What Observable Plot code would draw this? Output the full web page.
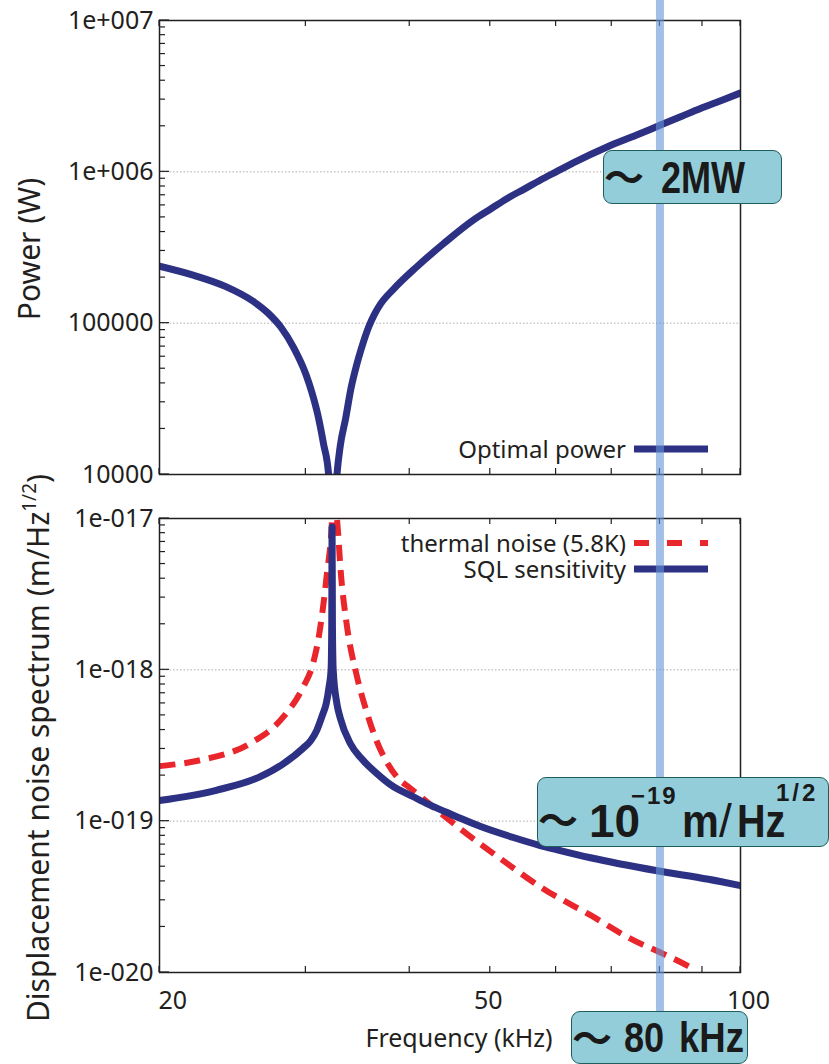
<!DOCTYPE html>
<html>
<head>
<meta charset="utf-8">
<script src="https://cdn.jsdelivr.net/npm/d3@7"></script>
<script src="https://cdn.jsdelivr.net/npm/@observablehq/plot@0.6"></script>
<style>
  body { margin: 0; background: #fff; }
  #fig { position: relative; width: 829px; height: 1064px; overflow: hidden; font-family: "Noto Sans", sans-serif; color: #231f20; background: #fff; }
  #fig > svg { position: absolute; left: 0; }
  .ytitle { position: absolute; white-space: nowrap; font-size: 30px; line-height: 1; transform: translate(-50%, -50%) rotate(-90deg); }
  .ytitle sup { font-size: 19px; vertical-align: 0; position: relative; top: -13px; }
  .callout { position: absolute; box-sizing: border-box; background: #93cdda; border: 1.5px solid #1e5e5c; border-radius: 9px; color: #1a1a1a; }
  .callout span { position: absolute; white-space: nowrap; line-height: 1; transform-origin: 0 0;
                  font-family: "Liberation Sans", sans-serif; font-weight: bold; }
  .callout span.wave { font-family: "Noto Sans CJK JP", sans-serif; font-weight: 700; font-size: 40px; }
</style>
</head>
<body>
<div id="fig"></div>
<script>
// Optimal laser power versus frequency
const powerFreq = [20, 22, 24, 26, 27, 28, 29, 30, 30.5, 31, 31.5, 31.95, 32.3, 32.7, 33, 33.5, 34, 34.5, 35, 35.7,
                   36.3, 36.9, 38.25, 40.8, 44, 47.7, 50, 52.4, 55, 57.4, 60, 63, 69.1, 75, 80, 85, 89.5, 95, 100];
const powerW = [2.38e5, 2.07e5, 1.75e5, 1.38e5, 1.17e5, 9.4e4, 6.9e4, 4.6e4, 3.5e4, 2.5e4, 1.6e4, 1.0e4, 3.0e3, 1.0e4,
                1.55e4, 2.36e4, 3.73e4, 5.21e4, 6.85e4, 9.43e4, 1.15e5, 1.34e5, 1.68e5, 2.36e5, 3.38e5, 4.8e5, 5.66e5,
                6.67e5, 7.72e5, 8.8e5, 1.0e6, 1.15e6, 1.46e6, 1.75e6, 2.03e6, 2.33e6, 2.62e6, 2.97e6, 3.32e6];

// SQL-limited displacement sensitivity (m/Hz^1/2)
const sqlFreq = [20, 23.4, 26.4, 28.2, 29.78, 30.4, 30.93, 31.4, 31.74, 32.0, 32.17, 32.23, 32.26, 32.29, 32.36, 32.69,
                 33.0, 33.93, 35, 36.5, 38, 40.4, 42, 44.3, 46.1, 48.6, 53.3, 57.3, 60.2, 66, 79.4, 91.5, 100];
const sqlNoise = [1.37e-19, 1.6e-19, 1.96e-19, 2.4e-19, 3.04e-19, 3.4e-19, 4.0e-19, 5.0e-19, 6.0e-19, 7.8e-19, 1.0e-18,
                  2.0e-18, 8.8e-18, 2.0e-18, 1.0e-18, 6.0e-19, 4.8e-19, 3.26e-19, 2.59e-19, 2.07e-19, 1.73e-19, 1.45e-19,
                  1.3e-19, 1.145e-19, 1.04e-19, 9.25e-20, 7.8e-20, 6.93e-20, 6.47e-20, 5.73e-20, 4.7e-20, 4.13e-20, 3.75e-20];

// Thermal noise of the mirror at 5.8 K (m/Hz^1/2)
const thermalFreq = [20, 22.4, 25.7, 28.2, 29.78, 30.6, 31.04, 31.43, 31.82, 32.18, 32.4, 32.76, 33.03, 33.6, 34.53,
                     35.51, 36.46, 37.49, 38.64, 40.06, 41.18, 43.77, 46.27, 51.97, 57.9, 66, 74.4, 80, 86.3, 88.5];
const thermalNoise = [2.31e-19, 2.53e-19, 3.26e-19, 4.9e-19, 7.7e-19, 1.1e-18, 1.57e-18, 2.48e-18, 4.43e-18, 7.78e-18,
                      1.5e-17, 8.8e-18, 4.57e-18, 1.98e-18, 9.22e-19, 5.25e-19, 3.43e-19, 2.49e-19, 1.95e-19, 1.65e-19,
                      1.46e-19, 1.11e-19, 8.7e-20, 5.42e-20, 3.58e-20, 2.39e-20, 1.63e-20, 1.36e-20, 1.11e-20, 1.03e-20];

// Operating frequency marker
const markerFreq = [80];

// Axis ticks and their labels
const freqTicks = [20, 30, 40, 50, 60, 70, 80, 90, 100];
const freqLabelTicks = [20, 50, 100];
const powerTicks = [1e4, 1e5, 1e6, 1e7];
const powerTickLabels = ["10000", "100000", "1e+006", "1e+007"];
const noiseTicks = [1e-20, 1e-19, 1e-18, 1e-17];
const noiseTickLabels = ["1e-020", "1e-019", "1e-018", "1e-017"];
const mantissas = [2, 3, 4, 5, 6, 7, 8, 9];

const BLUE = "#2d3184", RED = "#e8262c", BAND = "rgb(100,150,215)", INK = "#231f20";
const W = 829, ML = 159, MR = 89;

const powerData = powerFreq.map((f, i) => ({f, v: powerW[i]}));
const sqlData = sqlFreq.map((f, i) => ({f, v: sqlNoise[i]}));
const thermalData = thermalFreq.map((f, i) => ({f, v: thermalNoise[i]}));

const minorOf = (majors) => majors.slice(0, -1).flatMap(d => mantissas.map(m => m * d));

// Legend drawn inside the frame: label right-aligned, then a line sample
function legend(entries, corner) {
  return (index, scales, values, dim) => {
    const g = d3.create("svg:g");
    const right = dim.width - dim.marginRight;
    entries.forEach((e, i) => {
      const y = corner === "top" ? dim.marginTop + 25 + i * 26 : dim.height - dim.marginBottom - 25 - i * 26;
      g.append("text").attr("x", right - 114).attr("y", y).attr("dy", "0.36em")
        .attr("text-anchor", "end").attr("font-size", 24).attr("fill", INK).text(e.label);
      g.append("line").attr("x1", right - 106).attr("x2", right - 32).attr("y1", y).attr("y2", y)
        .attr("stroke", e.color).attr("stroke-width", e.width)
        .attr("stroke-dasharray", e.dash || null);
    });
    return g.node();
  };
}

// Inward tick marks: y ticks on the left edge, x ticks on the top and bottom edges
function inwardTicks(majors) {
  const minors = minorOf(majors);
  return (index, scales, values, dim) => {
    const g = d3.create("svg:g").attr("stroke", INK).attr("stroke-width", 1.2);
    const left = dim.marginLeft, top = dim.marginTop, bottom = dim.height - dim.marginBottom;
    for (const v of majors) {
      const y = scales.y(v);
      g.append("line").attr("x1", left).attr("x2", left + 10).attr("y1", y).attr("y2", y);
    }
    for (const v of minors) {
      const y = scales.y(v);
      g.append("line").attr("x1", left).attr("x2", left + 6).attr("y1", y).attr("y2", y);
    }
    for (const f of freqTicks) {
      const x = scales.x(f);
      g.append("line").attr("x1", x).attr("x2", x).attr("y1", bottom).attr("y2", bottom - 6);
      g.append("line").attr("x1", x).attr("x2", x).attr("y1", top).attr("y2", top + 6);
    }
    return g.node();
  };
}

function axesMarks(majors, labels) {
  return [
    inwardTicks(majors),
    Plot.axisY(majors, {tickSize: 0, tickPadding: 6, fontSize: 25, label: null,
                        tickFormat: d => labels[majors.indexOf(d)]})
  ];
}

const common = {
  width: W,
  marginLeft: ML,
  marginRight: MR,
  x: {type: "log", domain: [20, 100]},
  style: {fontFamily: "Noto Sans", fontSize: "25px", color: INK, background: "transparent", overflow: "visible"}
};

// Upper panel: optimal power
const topPlot = Plot.plot({
  ...common,
  height: 496,
  marginTop: 20,
  marginBottom: 22,
  y: {type: "log", domain: [1e4, 1e7]},
  marks: [
    Plot.gridY(powerTicks.slice(1, -1), {stroke: "#8c8c8c", strokeOpacity: 0.7, strokeDasharray: "1.5,2"}),
    Plot.line(powerData, {x: "f", y: "v", stroke: BLUE, strokeWidth: 7, curve: "monotone-x", clip: true}),
    ...axesMarks(powerTicks, powerTickLabels),
    Plot.axisX({tickSize: 0, tickFormat: () => "", label: null}),
    legend([{label: "Optimal power", color: BLUE, width: 7}], "bottom"),
    Plot.frame({stroke: INK, strokeWidth: 1.5}),
    Plot.ruleX(markerFreq, {stroke: BAND, strokeOpacity: 0.6, strokeWidth: 8, insetTop: -20, insetBottom: -22})
  ]
});
topPlot.style.top = "0px";

// Lower panel: displacement noise spectra
const bottomPlot = Plot.plot({
  ...common,
  height: 568,
  marginTop: 22,
  marginBottom: 92,
  y: {type: "log", domain: [1e-20, 1e-17]},
  marks: [
    Plot.gridY(noiseTicks.slice(1, -1), {stroke: "#8c8c8c", strokeOpacity: 0.7, strokeDasharray: "1.5,2"}),
    Plot.line(thermalData, {x: "f", y: "v", stroke: RED, strokeWidth: 6, strokeDasharray: "16,9",
                            strokeLinecap: "butt", curve: "monotone-x", clip: true}),
    Plot.line(sqlData, {x: "f", y: "v", stroke: BLUE, strokeWidth: 7, curve: "monotone-x", clip: true}),
    ...axesMarks(noiseTicks, noiseTickLabels),
    Plot.axisX([freqLabelTicks[0]], {tickSize: 0, tickPadding: 19, textAnchor: "start", dx: -1, label: null, fontSize: 25}),
    Plot.axisX([freqLabelTicks[1]], {tickSize: 0, tickPadding: 19, dx: -2, label: null, fontSize: 25}),
    Plot.axisX([freqLabelTicks[2]], {tickSize: 0, tickPadding: 19, dx: 8, label: null, fontSize: 25}),
    Plot.text(["Frequency (kHz)"], {frameAnchor: "bottom", dy: 66, dx: 9, lineAnchor: "middle", fontSize: 25, fill: INK}),
    legend([{label: "thermal noise (5.8K)", color: RED, width: 6, dash: "15,18"},
            {label: "SQL sensitivity", color: BLUE, width: 7}], "top"),
    Plot.frame({stroke: INK, strokeWidth: 1.5}),
    Plot.ruleX(markerFreq, {stroke: BAND, strokeOpacity: 0.6, strokeWidth: 8, insetTop: -22, insetBottom: -45})
  ]
});
bottomPlot.style.top = "496px";

const fig = document.getElementById("fig");
fig.append(topPlot, bottomPlot);

// Rotated axis titles
fig.insertAdjacentHTML("beforeend", `
  <div class="ytitle" style="left:29px;top:249px">Power (W)</div>
  <div class="ytitle" style="left:38px;top:748px">Displacement noise spectrum (m/Hz<sup>1/2</sup>)</div>
`);

// Annotation callouts
fig.insertAdjacentHTML("beforeend", `
  <div class="callout" style="left:603px;top:150px;width:179px;height:54px">
    <span class="wave" style="left:0px;top:4px">〜</span>
    <span style="left:57px;top:5px;font-size:44px;transform:scaleX(0.82)">2MW</span>
  </div>
  <div class="callout" style="left:537px;top:777px;width:292px;height:70px">
    <span class="wave" style="left:0px;top:20px">〜</span>
    <span style="left:51px;top:20px;font-size:46px">10</span>
    <span style="left:93px;top:6px;font-size:24px;letter-spacing:2px">−19</span>
    <span style="left:144px;top:20px;font-size:46px;transform:scaleX(0.9)">m</span>
    <span style="left:181px;top:20px;font-size:46px;font-weight:normal">/</span>
    <span style="left:199px;top:20px;font-size:46px;transform:scaleX(0.86)">Hz</span>
    <span style="left:238px;top:3px;font-size:24px;letter-spacing:3px">1/2</span>
  </div>
  <div class="callout" style="left:571px;top:1011px;width:177px;height:53px">
    <span class="wave" style="left:0px;top:4px">〜</span>
    <span style="left:52px;top:5px;font-size:42px;transform:scaleX(0.86)">80</span>
    <span style="left:107px;top:5px;font-size:42px;transform:scaleX(0.87)">kHz</span>
  </div>
`);
</script>
</body>
</html>
